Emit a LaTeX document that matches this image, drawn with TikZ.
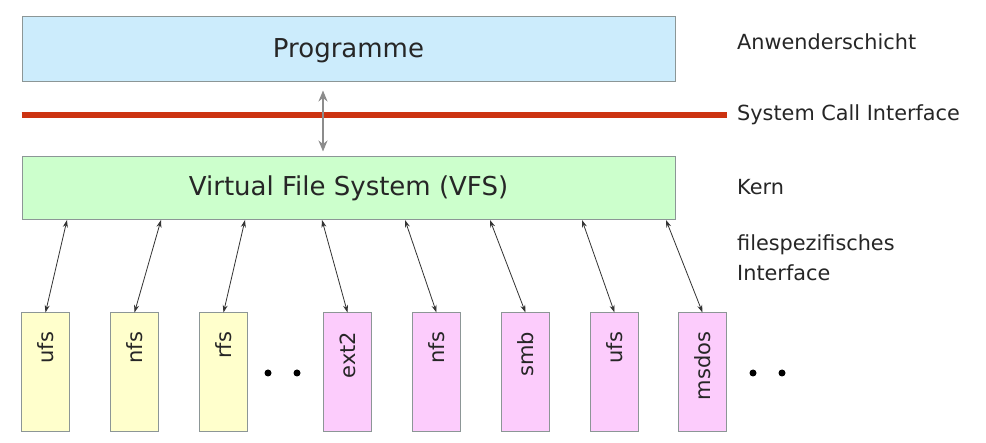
\documentclass[tikz,border=0pt]{standalone}
\usepackage{fontspec}
\setmainfont{DejaVu Sans}
\usetikzlibrary{positioning,arrows.meta}

\definecolor{progblue}{RGB}{204,236,252}
\definecolor{vfsgreen}{RGB}{204,255,204}
\definecolor{fsyellow}{RGB}{255,255,204}
\definecolor{fspink}{RGB}{252,204,252}
\definecolor{sysred}{RGB}{204,51,17}
\definecolor{boxgray}{RGB}{140,150,150}

\begin{document}
\begin{tikzpicture}[x=1pt, y=-1pt,
    layerbox/.style={rectangle, draw=boxgray, line width=1pt, minimum width=653pt, inner sep=0pt, text=black!85, font=\fontsize{26}{30}\selectfont},
    fsbox/.style={rectangle, draw=boxgray, line width=1pt, minimum width=48pt, minimum height=119pt, inner sep=0pt},
    fsname/.style={rotate=90, anchor=east, inner sep=0pt, text=black!85, font=\fontsize{21}{24}\selectfont},
    sidetext/.style={anchor=west, align=left, inner sep=0pt, text=black!85, font=\fontsize{20.8}{30}\selectfont},
    dotnode/.style={circle, fill=black, inner sep=0pt, minimum size=7pt},
    fsarrow/.style={<->, >={Stealth[length=7.5pt,width=5pt]}, line width=0.8pt, draw=black!80},
    node distance=40pt
    ]
        \fill[white] (0,0) rectangle (986,443);
        \useasboundingbox (0,0) rectangle (986,443);

        %Layers
        \node[layerbox, fill=progblue, minimum height=65pt, text height=19pt, text depth=2pt]
            (prog)  at (348.5,49.5)     {Programme};
        \node[layerbox, fill=vfsgreen, minimum height=63pt]
            (vfs)   at (348.5,188.5)    {Virtual File System (VFS)};

        %Side labels
        \node[sidetext] (app)   at (737,42)     {Anwenderschicht};
        \node[sidetext] (sci)   at (737,115)    {System Call Interface};
        \node[sidetext] (kern)  at (737,187)    {Kern};
        \node[sidetext] (fsif)  at (737,258)    {filespezifisches\\Interface};

        %File systems
        \node[fsbox, fill=fsyellow]
            (ufsA)  at (45.5,372.5)     {};
        \node[fsbox, fill=fsyellow]
            (nfsA)  [right=of ufsA]     {};
        \node[fsbox, fill=fsyellow]
            (rfs)   [right=of nfsA]     {};
        \node[fsbox, fill=fspink]
            (ext2)  [right=75pt of rfs] {};
        \node[fsbox, fill=fspink]
            (nfsB)  [right=of ext2]     {};
        \node[fsbox, fill=fspink]
            (smb)   [right=of nfsB]     {};
        \node[fsbox, fill=fspink]
            (ufsB)  [right=of smb]      {};
        \node[fsbox, fill=fspink]
            (msdos) [right=39pt of ufsB] {};

        \node[fsname] (ufsA-l)  at ([yshift=-19pt]ufsA.north)  {ufs};
        \node[fsname] (nfsA-l)  at ([yshift=-19pt]nfsA.north)  {nfs};
        \node[fsname] (rfs-l)   at ([yshift=-19pt]rfs.north)   {rfs};
        \node[fsname] (ext2-l)  at ([yshift=-19pt]ext2.north)  {ext2};
        \node[fsname] (nfsB-l)  at ([yshift=-19pt]nfsB.north)  {nfs};
        \node[fsname] (smb-l)   at ([yshift=-19pt]smb.north)   {smb};
        \node[fsname] (ufsB-l)  at ([yshift=-19pt]ufsB.north)  {ufs};
        \node[fsname] (msdos-l) at ([yshift=-19pt]msdos.north) {msdos};

        %Dots
        \node[dotnode] (dotA1) at (268,373) {};
        \node[dotnode] (dotA2) at (297,373) {};
        \node[dotnode] (dotB1) at (753,373) {};
        \node[dotnode] (dotB2) at (782,373) {};

        %System call line
        \draw[sysred, line width=6pt]
            (prog.west |- sci.west) -- ([xshift=-10pt]sci.west);
        \coordinate (callTop) at ([xshift=-25.5pt]prog.south);
        \coordinate (callBot) at ([xshift=-25.5pt]vfs.north);
        \draw[<->, >={Stealth[length=11pt,width=9pt]}, draw=black!45, line width=2.8pt, shorten <=8pt, shorten >=5pt]
            (callTop) -- (callBot);

        %Interface arrows
        \coordinate (t1) at (67,220);
        \coordinate (t2) at (161,220);
        \coordinate (t3) at (245,220);
        \coordinate (t4) at (322,220);
        \coordinate (t5) at (405,220);
        \coordinate (t6) at (490,220);
        \coordinate (t7) at (582,220);
        \coordinate (t8) at (666,220);
        \draw[fsarrow] (t1) -- (ufsA.north);
        \draw[fsarrow] (t2) -- (nfsA.north);
        \draw[fsarrow] (t3) -- (rfs.north);
        \draw[fsarrow] (t4) -- (ext2.north);
        \draw[fsarrow] (t5) -- (nfsB.north);
        \draw[fsarrow] (t6) -- (smb.north);
        \draw[fsarrow] (t7) -- (ufsB.north);
        \draw[fsarrow] (t8) -- (msdos.north);
    \end{tikzpicture}
\end{document}
